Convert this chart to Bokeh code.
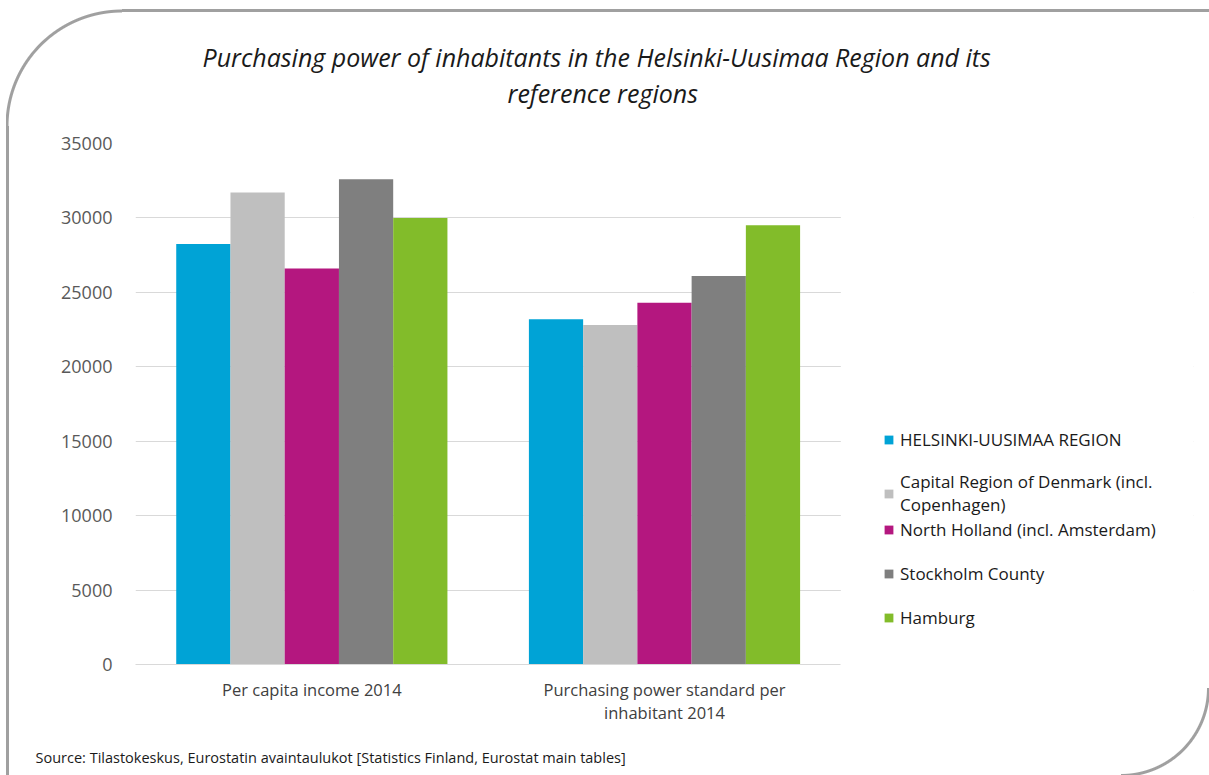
from bokeh.plotting import figure
from bokeh.models import (FactorRange, FixedTicker, Legend, LegendItem, Title,
                          BoxAnnotation, ColumnDataSource)
from bokeh.transform import dodge
from bokeh.embed import file_html
from bokeh.resources import INLINE

# ---- data ----
categories = ["Per capita income 2014", "Purchasing power standard per\ninhabitant 2014"]
series_names = ["HELSINKI-UUSIMAA REGION",
                "Capital Region of Denmark (incl.\nCopenhagen)",
                "North Holland (incl. Amsterdam)",
                "Stockholm County",
                "Hamburg"]
helsinki = [28250, 23200]
denmark = [31700, 22800]
north_holland = [26600, 24300]
stockholm = [32600, 26100]
hamburg = [30000, 29500]
y_ticks = [0, 5000, 10000, 15000, 20000, 25000, 30000, 35000]
colors = ["#00a3d6", "#bfbfbf", "#b4177f", "#7f7f7f", "#82bc2a"]
values = [helsinki, denmark, north_holland, stockholm, hamburg]

title_line1 = "Purchasing power of inhabitants in the Helsinki-Uusimaa Region and its"
title_line2 = "reference regions"
source_text = "Source: Tilastokeskus, Eurostatin avaintaulukot [Statistics Finland, Eurostat main tables]"

FONT = "Open Sans"
LINE = "#a0a0a0"

# decorative rounded frame drawn behind the (transparent) canvas border
frame_css = {
    "background-image": ", ".join([
        f"linear-gradient({LINE}, {LINE})",
        f"linear-gradient({LINE}, {LINE})",
        f"radial-gradient(circle at 100% 100%, rgba(160,160,160,0) 113px, {LINE} 114px, {LINE} 116px, rgba(160,160,160,0) 117px)",
        f"radial-gradient(circle at 0 0, rgba(160,160,160,0) 85.5px, {LINE} 86.5px, {LINE} 88.5px, rgba(160,160,160,0) 89.5px)",
    ]),
    "background-position": "122px 9px, 6px 126px, 6px 9px, 1121px 688px",
    "background-size": "1087px 3px, 3px 649px, 116px 117px, 100px 100px",
    "background-repeat": "no-repeat",
}

# third (blank) factor reserves the legend area inside the frame
p = figure(x_range=FactorRange(*categories, " ", range_padding=0), y_range=(0, 35000),
           width=1209, height=775, output_backend="svg", toolbar_location=None,
           min_border_left=135, min_border_right=16, min_border_top=143,
           min_border_bottom=111, styles=frame_css)
p.outline_line_color = None
p.border_fill_color = None

bar_w = 0.1538
renderers = []
for i, (vals, col) in enumerate(zip(values, colors)):
    src = ColumnDataSource(dict(cat=categories, val=vals))
    off = (i - 2) * bar_w
    r = p.vbar(x=dodge("cat", off, range=p.x_range), top="val", width=bar_w,
               source=src, fill_color=col, line_color=None)
    renderers.append(r)

# axes
p.yaxis.ticker = FixedTicker(ticks=y_ticks)
p.yaxis.axis_line_color = None
p.yaxis.major_tick_line_color = None
p.yaxis.minor_tick_line_color = None
p.yaxis.major_label_standoff = 17
p.yaxis.major_label_text_font = FONT
p.yaxis.major_label_text_font_size = "18px"
p.yaxis.major_label_text_color = "#595959"

p.xaxis.axis_line_color = "#d9d9d9"
p.xaxis.bounds = (0, 2)
p.xaxis.major_tick_line_color = None
p.xaxis.minor_tick_line_color = None
p.xaxis.major_label_standoff = 7
p.xaxis.major_label_text_font = FONT
p.xaxis.major_label_text_font_size = "16.5px"
p.xaxis.major_label_text_line_height = 1.0
p.xaxis.major_label_text_color = "#404040"

p.xgrid.grid_line_color = None
p.ygrid.grid_line_color = "#d9d9d9"
p.ygrid.grid_line_width = 1

# blank out grid in legend area
p.add_layout(BoxAnnotation(left=2, fill_color="white", fill_alpha=1, line_color=None))

# titles: p.title is outermost; items in p.above stack outward from the frame
p.title.text = title_line1
p.title.align = "left"
p.title.offset = 67
p.title.standoff = 0
p.title.text_font = FONT
p.title.text_font_style = "italic"
p.title.text_font_size = "25px"
p.title.text_color = "#1a1a1a"
spacer = Title(text="\u00a0", standoff=31, text_font_size="1px")
p.add_layout(spacer, "above")
t2 = Title(text=title_line2, align="left", offset=372, standoff=0, text_font=FONT,
           text_font_style="italic", text_font_size="25px", text_color="#1a1a1a")
p.add_layout(t2, "above")

src_title = Title(text="\u00a0\n" + source_text,
                  align="left", offset=-100, standoff=0, text_font=FONT,
                  text_font_style="normal", text_font_size="14.5px", text_color="#1a1a1a")
p.add_layout(src_title, "below")

# legends
common = dict(margin=0, padding=5, glyph_width=11, glyph_height=11, label_standoff=6,
              label_text_font=FONT, label_text_font_size="17px", label_text_color="#1a1a1a",
              border_line_color=None, background_fill_alpha=0)
leg1 = Legend(items=[LegendItem(label=series_names[k], renderers=[renderers[k]]) for k in (0, 1)],
              location=(748, 147), spacing=6, label_height=48, **common)
leg2 = Legend(items=[LegendItem(label=series_names[k], renderers=[renderers[k]]) for k in (2, 3, 4)],
              location=(748, 27), spacing=4, label_height=40, **common)
p.add_layout(leg1)
p.add_layout(leg2)

open("out.html", "w").write(file_html(p, INLINE))
